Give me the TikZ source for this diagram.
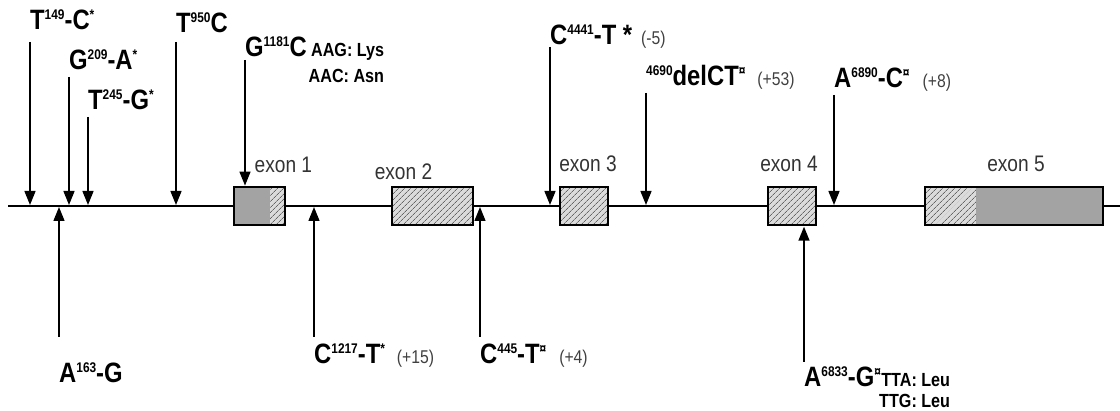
\documentclass[tikz,border=0pt]{standalone}
\usepackage{fontspec}
\setmainfont{Liberation Sans}[FakeStretch=0.85]
\usetikzlibrary{arrows.meta,positioning,patterns.meta}

\definecolor{hatchbg}{gray}{0.86}
\definecolor{hatchfg}{gray}{0.4}
\definecolor{cdsgray}{gray}{0.64}

\newcommand\spx[1]{\raisebox{10pt}{\fontsize{14}{14}\selectfont #1}}
\newcommand\pnum{\mdseries\fontsize{18.5}{20}\selectfont\color{black!75}}

\begin{document}
\begin{tikzpicture}[x=1pt,y=-1pt,
  mut/.style={font=\bfseries\fontsize{28}{30}\selectfont, inner sep=0pt, anchor=base west},
  codon/.style={font=\bfseries\fontsize{19}{20}\selectfont, inner sep=0pt},
  exlbl/.style={font=\fontsize{22.5}{24}\selectfont, text=black!80, inner sep=0pt},
  exon/.style={draw, line width=1.4pt, inner sep=0pt, minimum height=38pt,
    preaction={fill=hatchbg},
    pattern={Lines[angle=45,distance=4pt,line width=0.8pt]}, pattern color=hatchfg},
  cds/.style 2 args={path picture={\fill[cdsgray]
    ([xshift=#1]path picture bounding box.north west) rectangle
    ([xshift=#2]path picture bounding box.south west);}},
  mutdown/.style={-{Triangle[length=14pt,width=11pt]}, line width=1.4pt, shorten >=1pt},
  mutup/.style={-{Triangle[length=14pt,width=11pt]}, line width=1.4pt, shorten >=1pt}]
  \useasboundingbox (0,0) rectangle (1120,411);

  % gene line
  \coordinate (axL) at (8,206);
  \coordinate (axR) at (1120,206);
  \draw[line width=2pt] (axL) -- (axR);

  % exons
  \node[exon, minimum width=51pt, cds={0pt}{36pt}] (ex1) at (259.5,206) {};
  \node[exon, minimum width=81pt] (ex2) at (432.5,206) {};
  \node[exon, minimum width=48pt] (ex3) at (584,206) {};
  \node[exon, minimum width=48pt] (ex4) at (792,206) {};
  \node[exon, minimum width=178pt, cds={51pt}{178pt}] (ex5) at (1014,206) {};

  \node[exlbl, above=14pt of ex1.north east, xshift=-2pt] (tex1) {exon 1};
  \node[exlbl, above=6pt of ex2.north, xshift=-29pt] (tex2) {exon 2};
  \node[exlbl, above=14pt of ex3.north, xshift=4pt] (tex3) {exon 3};
  \node[exlbl, above=14pt of ex4.north, xshift=-3pt] (tex4) {exon 4};
  \node[exlbl, above=14pt of ex5.north, xshift=2pt] (tex5) {exon 5};

  % variants above the gene
  \node[mut] (lT149) at (30,30) {T\spx{149}-C\spx{*}};
  \node[mut] (lG209) at (69,70) {G\spx{209}-A\spx{*}};
  \node[mut] (lT245) at (88,110) {T\spx{245}-G\spx{*}};
  \node[mut] (lT950) at (176,33) {T\spx{950}C};
  \node[mut] (lG1181) at (245,57) {G\spx{1181}C};
  \node[codon, anchor=base west] (lAAG) at ([xshift=4pt]lG1181.base east) {AAG: Lys};
  \node[codon, anchor=base east] (lAAC) at ([yshift=-26pt]lAAG.base east) {AAC: Asn};
  \node[mut] (lC4441) at (550,45) {C\spx{4441}-T *\hspace{9pt}{\pnum(-5)}};
  \node[mut] (l4690) at (646,86) {\spx{4690}delCT\spx{¤}\hspace{12pt}{\pnum(+53)}};
  \node[mut] (lA6890) at (834,88) {A\spx{6890}-C\spx{¤}\hspace{13pt}{\pnum(+8)}};

  \draw[mutdown] ([yshift=-12pt]lT149.base west) -- (lT149.base west |- axL);
  \draw[mutdown] ([yshift=-7pt]lG209.base west) -- (lG209.base west |- axL);
  \draw[mutdown] ([yshift=-7pt]lT245.base west) -- (lT245.base west |- axL);
  \draw[mutdown] ([yshift=-9pt]lT950.base west) -- (lT950.base west |- axL);
  \draw[mutdown] ([yshift=-3pt]lG1181.base west) -- (lG1181.base west |- ex1.north);
  \draw[mutdown] ([yshift=-2pt]lC4441.base west) -- (lC4441.base west |- axL);
  \draw[mutdown] ([yshift=-7pt]l4690.base west) -- (l4690.base west |- axL);
  \draw[mutdown] ([yshift=-7pt]lA6890.base west) -- (lA6890.base west |- axL);

  % variants below the gene
  \node[mut] (lA163) at (59,383) {A\spx{163}-G};
  \node[mut] (lC1217) at (314,364) {C\spx{1217}-T\spx{*}\hspace{12pt}{\pnum(+15)}};
  \node[mut] (lC445) at (480,364) {C\spx{445}-T\spx{¤}\hspace{13pt}{\pnum(+4)}};
  \node[mut] (lA6833) at (804,387) {A\spx{6833}-G\spx{¤}};
  \node[codon, anchor=base west] (lTTA) at (lA6833.base east) {TTA: Leu};
  \node[codon, anchor=base east] (lTTG) at ([yshift=-21pt]lTTA.base east) {TTG: Leu};

  \draw[mutup] ([yshift=46pt]lA163.base west) -- (lA163.base west |- axL);
  \draw[mutup] ([yshift=27pt]lC1217.base west) -- (lC1217.base west |- axL);
  \draw[mutup] ([yshift=27pt]lC445.base west) -- (lC445.base west |- axL);
  \draw[mutup] ([yshift=25pt]lA6833.base west) -- (lA6833.base west |- ex4.south);
\end{tikzpicture}
\end{document}
